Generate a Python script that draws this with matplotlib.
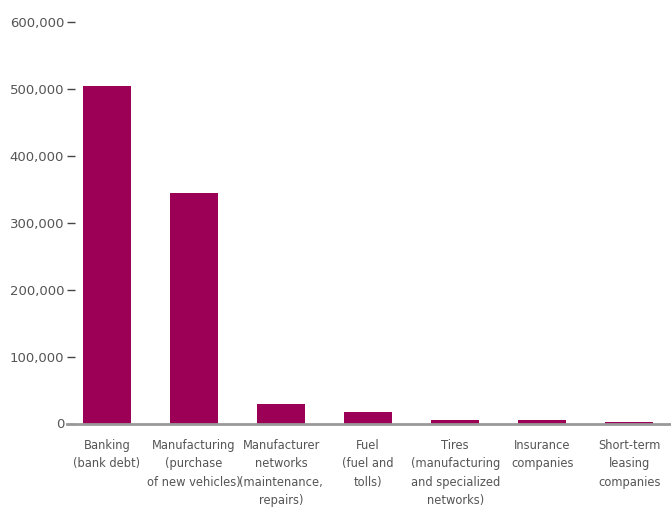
import matplotlib
matplotlib.use("Agg")
import matplotlib.pyplot as plt

# Dados
categorias = [
    "Banking\n(bank debt)",
    "Manufacturing\n(purchase\nof new vehicles)",
    "Manufacturer\nnetworks\n(maintenance,\nrepairs)",
    "Fuel\n(fuel and\ntolls)",
    "Tires\n(manufacturing\nand specialized\nnetworks)",
    "Insurance\ncompanies",
    "Short-term\nleasing\ncompanies",
]
valores = [505000, 344000, 28500, 16500, 5000, 5000, 2000]
ticks_y = [0, 100000, 200000, 300000, 400000, 500000, 600000]
rotulos_y = ["0", "100,000", "200,000", "300,000", "400,000", "500,000", "600,000"]

cor_barra = "#9b0056"
cor_texto = "#555555"

plt.rcParams["font.family"] = ["DejaVu Sans Condensed", "DejaVu Sans"]

fig = plt.figure(figsize=(6.71, 5.07), dpi=100)
ax = fig.add_axes([67 / 671, 1 - 423.5 / 507, 1 - 67 / 671, (423.5 - 22) / 507])

x = list(range(len(categorias)))
ax.bar(x, valores, width=0.55, color=cor_barra, zorder=2)

ax.set_xlim(-0.46, len(categorias) - 1 + 0.48)
ax.set_ylim(0, 600000)
ax.set_yticks(ticks_y)
ax.set_yticklabels(rotulos_y)
ax.set_xticks(x)
ax.set_xticklabels(categorias, linespacing=1.55)

for s in ["top", "right", "left"]:
    ax.spines[s].set_visible(False)
ax.spines["bottom"].set_color("#999999")
ax.spines["bottom"].set_linewidth(2)
ax.spines["bottom"].set_zorder(3)

ax.tick_params(axis="y", direction="in", length=6, width=1, color="#444444",
               labelsize=9.5, labelcolor=cor_texto, pad=2)
ax.tick_params(axis="x", length=0, labelsize=8.3, labelcolor=cor_texto, pad=11)

fig.savefig("out.png", dpi=100)
